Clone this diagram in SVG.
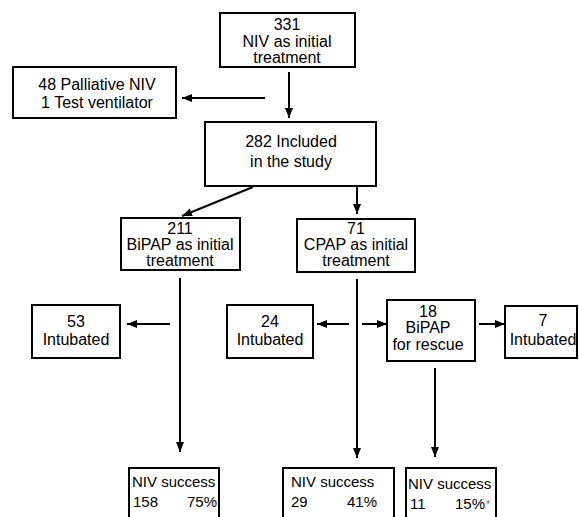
<svg xmlns="http://www.w3.org/2000/svg" width="579" height="517" viewBox="0 0 579 517">
<style>
.box{fill:#fff;stroke:#000;stroke-width:2}
text{font-family:"Liberation Sans",Arial,sans-serif;font-size:16px;fill:#000}
.c{text-anchor:middle}
.s{font-size:15px}
.e{text-anchor:end}
.ln{stroke:#000;stroke-width:2;fill:none}
</style>
<defs>
<marker id="ah" markerUnits="userSpaceOnUse" markerWidth="10" markerHeight="10" viewBox="0 0 10 10" refX="10" refY="5" orient="auto">
<path d="M0,1 L10,5 L0,9 Z" fill="#000"/>
</marker>
</defs>
<rect width="579" height="517" fill="#fff"/>
<g id="connectors">
<line class="ln" x1="289" y1="72" x2="289" y2="118" marker-end="url(#ah)"/>
<line class="ln" x1="265" y1="98" x2="182" y2="98" marker-end="url(#ah)"/>
<line class="ln" x1="253" y1="187" x2="182" y2="216" marker-end="url(#ah)"/>
<line class="ln" x1="357" y1="186" x2="357" y2="214" marker-end="url(#ah)"/>
<line class="ln" x1="180" y1="278" x2="180" y2="452" marker-end="url(#ah)"/>
<line class="ln" x1="170" y1="324" x2="127" y2="324" marker-end="url(#ah)"/>
<line class="ln" x1="357" y1="279" x2="357" y2="458" marker-end="url(#ah)"/>
<line class="ln" x1="349" y1="324" x2="317" y2="324" marker-end="url(#ah)"/>
<line class="ln" x1="362" y1="324" x2="387" y2="324" marker-end="url(#ah)"/>
<line class="ln" x1="479" y1="324" x2="505" y2="324" marker-end="url(#ah)"/>
<line class="ln" x1="435" y1="368" x2="435" y2="457" marker-end="url(#ah)"/>
</g>
<g id="n331">
<rect class="box" x="220" y="13" width="135" height="54"/>
<text class="c" x="287" y="30">331</text>
<text class="c" x="287" y="47">NIV as initial</text>
<text class="c" x="287" y="63">treatment</text>
</g>
<g id="n48">
<rect class="box" x="13" y="67" width="163" height="51"/>
<text class="c" x="97" y="90">48 Palliative NIV</text>
<text class="c" x="97" y="108">1 Test ventilator</text>
</g>
<g id="n282">
<rect class="box" x="205" y="122" width="171" height="64"/>
<text class="c" x="291" y="147">282 Included</text>
<text class="c" x="291" y="167">in the study</text>
</g>
<g id="n211">
<rect class="box" x="121" y="218" width="119" height="52"/>
<text class="c" x="180" y="234">211</text>
<text class="c" x="180" y="250">BiPAP as initial</text>
<text class="c" x="180" y="266">treatment</text>
</g>
<g id="n71">
<rect class="box" x="297" y="219" width="118" height="53"/>
<text class="c" x="356" y="234">71</text>
<text class="c" x="356" y="250">CPAP as initial</text>
<text class="c" x="356" y="266">treatment</text>
</g>
<g id="n53">
<rect class="box" x="32" y="305" width="88" height="53"/>
<text class="c" x="76" y="327">53</text>
<text class="c" x="76" y="345">Intubated</text>
</g>
<g id="n24">
<rect class="box" x="227" y="305" width="86" height="53"/>
<text class="c" x="270" y="327">24</text>
<text class="c" x="270" y="345">Intubated</text>
</g>
<g id="n18">
<rect class="box" x="387" y="300" width="88" height="61"/>
<text class="c" x="428" y="317">18</text>
<text class="c" x="428" y="333">BiPAP</text>
<text class="c" x="428" y="350">for rescue</text>
</g>
<g id="n7">
<rect class="box" x="505" y="306" width="72" height="52"/>
<text class="c" x="543" y="326">7</text>
<text class="c" x="543" y="345">Intubated</text>
</g>
<g id="s158">
<rect class="box" x="129" y="468" width="90" height="60"/>
<text class="s" x="132" y="487">NIV success</text>
<text class="s" x="133" y="507">158</text>
<text class="s e" x="217" y="507">75%</text>
</g>
<g id="s29">
<rect class="box" x="283" y="468" width="111" height="60"/>
<text class="s" x="291" y="487">NIV success</text>
<text class="s" x="291" y="507">29</text>
<text class="s e" x="377" y="507">41%</text>
</g>
<g id="s11">
<rect class="box" x="406" y="468" width="90" height="60"/>
<text class="s" x="408" y="489">NIV success</text>
<text class="s" x="410" y="509">11</text>
<text class="s e" x="485" y="509">15%</text>
<text x="486" y="508" style="font-size:11px;fill:#777">*</text>
</g>
</svg>
